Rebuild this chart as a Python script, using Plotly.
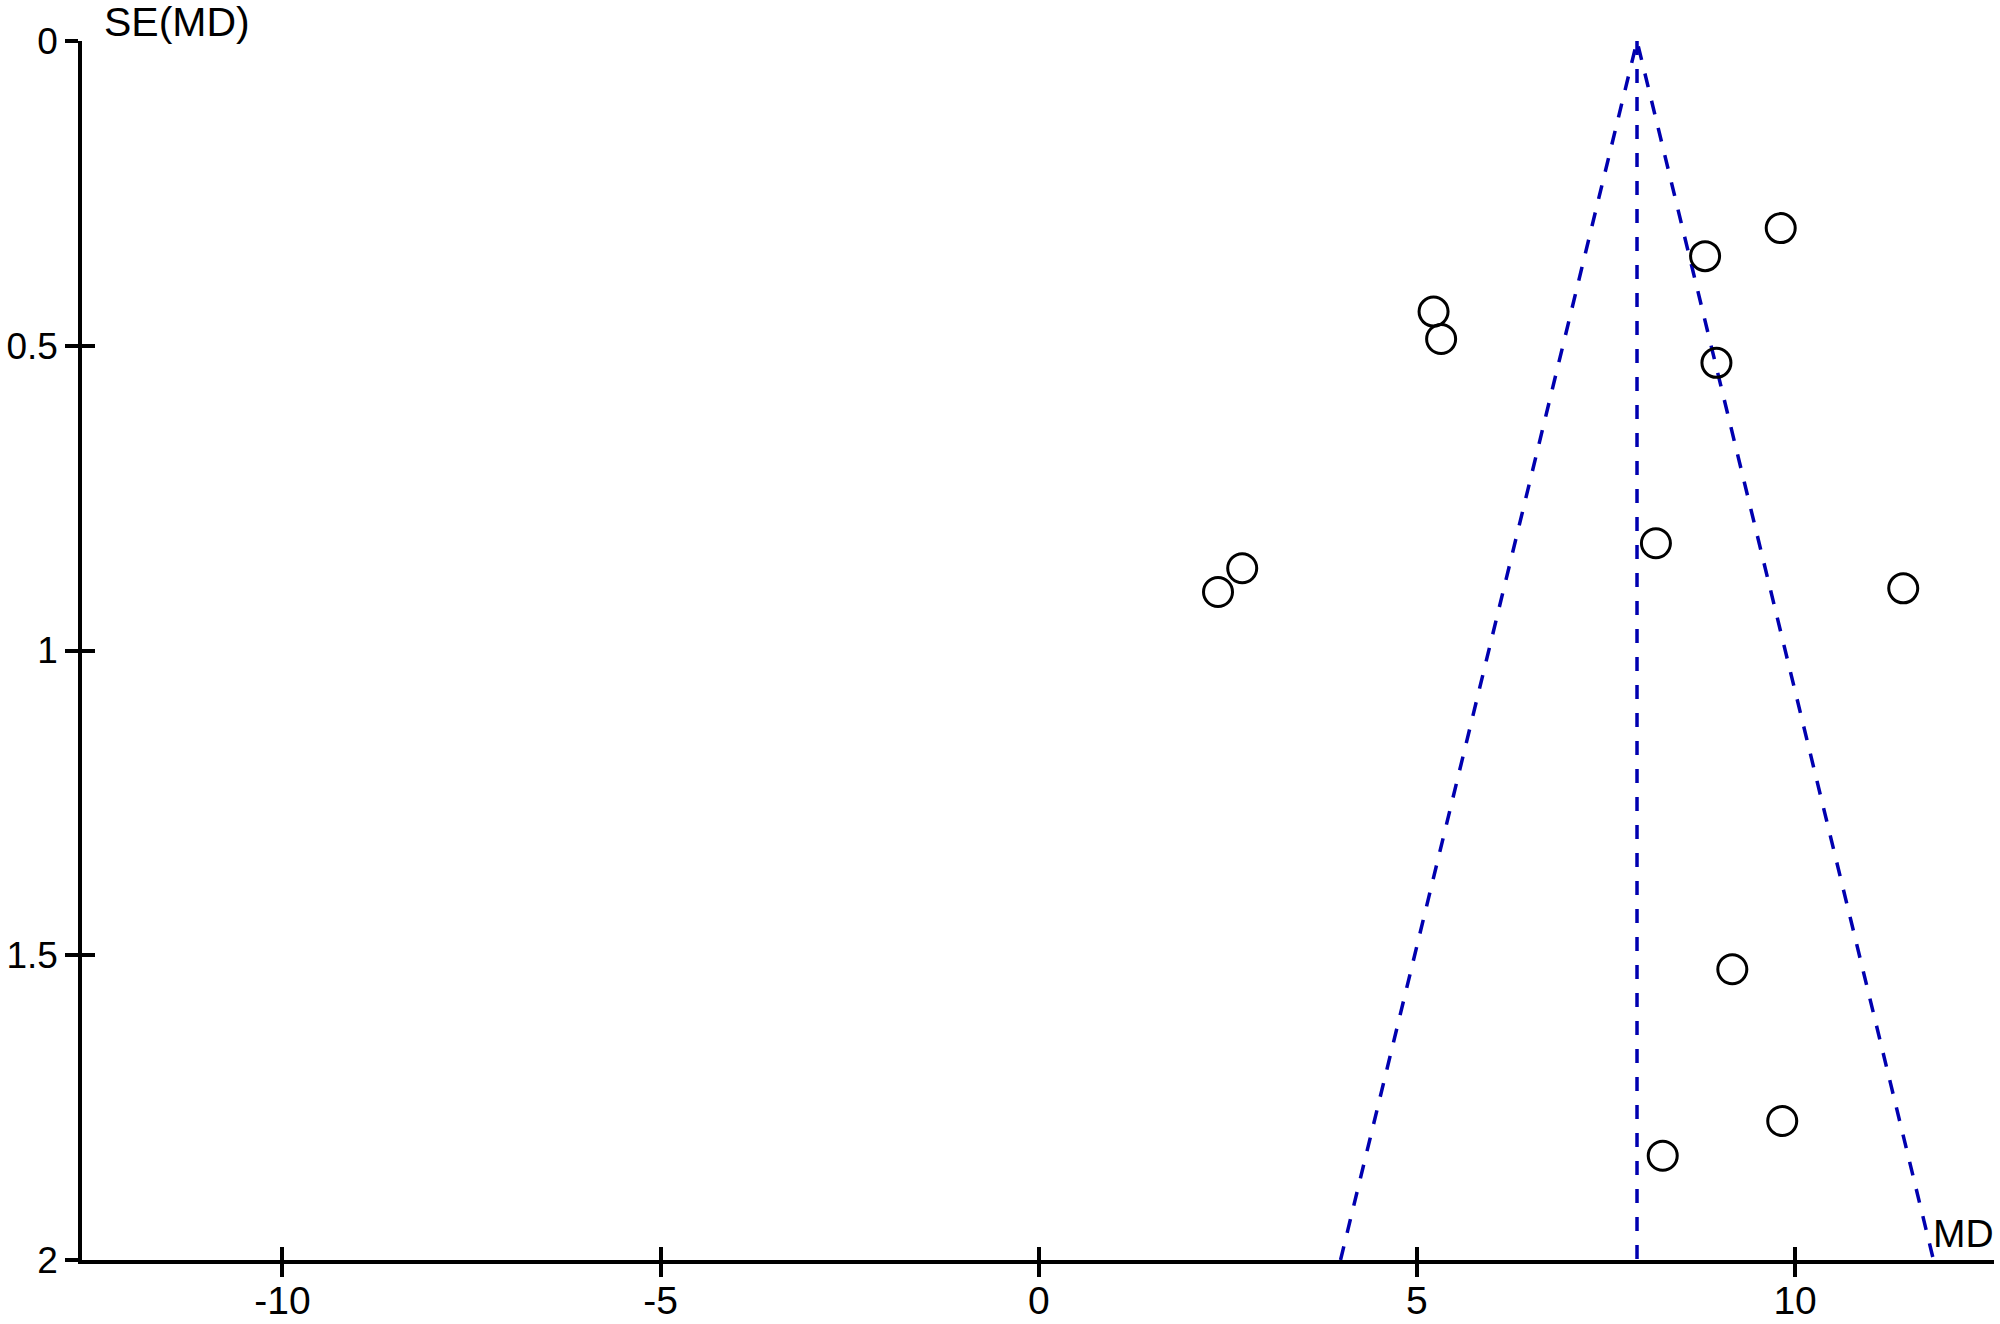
import plotly.graph_objects as go

# study estimates
md = [9.81, 8.81, 5.22, 5.32, 8.96, 8.16, 2.69, 2.37, 11.43, 9.17, 9.83, 8.25]
se_md = [0.307, 0.353, 0.444, 0.489, 0.528, 0.824, 0.865, 0.904, 0.898, 1.523, 1.772, 1.829]

pooled_md = 7.91
se_max = 2.0
x_ticks = [-10, -5, 0, 5, 10]
x_labels = ["-10", "-5", "0", "5", "10"]
y_ticks = [0, 0.5, 1, 1.5, 2]
y_labels = ["0", "0.5", "1", "1.5", "2"]

x_range = [-12.65, 12.63]
line_blue = "#0000b0"
dash = "14px,14px"
font = dict(family="Liberation Sans, Arial, sans-serif", size=39, color="black")

fig = go.Figure()

# pseudo 95% confidence limits
fig.add_trace(go.Scatter(
    x=[pooled_md - 1.96 * se_max, pooled_md, pooled_md + 1.96 * se_max],
    y=[se_max, 0, se_max],
    mode="lines",
    line=dict(color=line_blue, width=3.5, dash=dash),
    hoverinfo="skip",
))
# pooled estimate, drawn on the overlay axes so they get rendered
fig.add_trace(go.Scatter(
    x=[pooled_md, pooled_md],
    y=[0, se_max],
    mode="lines",
    line=dict(color=line_blue, width=3.5, dash=dash),
    hoverinfo="skip",
    xaxis="x2",
    yaxis="y2",
))
fig.add_trace(go.Scatter(
    x=md,
    y=se_md,
    mode="markers",
    marker=dict(symbol="circle-open", size=29, color="black", line=dict(width=3, color="black")),
))

axis_common = dict(
    showgrid=False, zeroline=False, showline=True, linecolor="black", linewidth=3.5,
    ticks="outside", ticklen=13, tickwidth=3.5, tickcolor="black",
    automargin=False,
)
inner_ticks = dict(
    showticklabels=False, showgrid=False, zeroline=False, showline=False,
    ticks="inside", ticklen=13, tickwidth=3.5, tickcolor="black", automargin=False,
)

fig.update_layout(
    template="none",
    width=2000,
    height=1324,
    margin=dict(l=82, r=6, t=41, b=64),
    paper_bgcolor="white",
    plot_bgcolor="white",
    showlegend=False,
    font=font,
    xaxis=dict(range=x_range, tickvals=x_ticks, ticktext=x_labels, ticklabelstandoff=-10,
               tickfont=font, **axis_common),
    yaxis=dict(range=[se_max, 0], tickvals=y_ticks, ticktext=y_labels, ticklabelstandoff=0,
               tickfont=dict(font, size=37), **axis_common),
    # second pair of axes only to draw the inner half of the crossing ticks
    xaxis2=dict(range=x_range, overlaying="x", anchor="y2", side="bottom", tickvals=x_ticks, **inner_ticks),
    yaxis2=dict(range=[se_max, 0], overlaying="y", anchor="x2", side="left", tickvals=y_ticks, **inner_ticks),
)

fig.add_annotation(text="SE(MD)", xref="paper", yref="paper", x=20 / 1912, y=1,
                   xanchor="left", yanchor="middle", yshift=19, showarrow=False,
                   font=dict(font, size=41))
fig.add_annotation(text="MD", xref="paper", yref="paper", x=1, y=0,
                   xanchor="right", yanchor="middle", yshift=27, xshift=2, showarrow=False, font=font)

# drop the default page margin so the 2000x1324 figure fills the window exactly
fig.write_html("out.html", config={"displayModeBar": False},
               post_script="document.body.style.margin = '0';")
